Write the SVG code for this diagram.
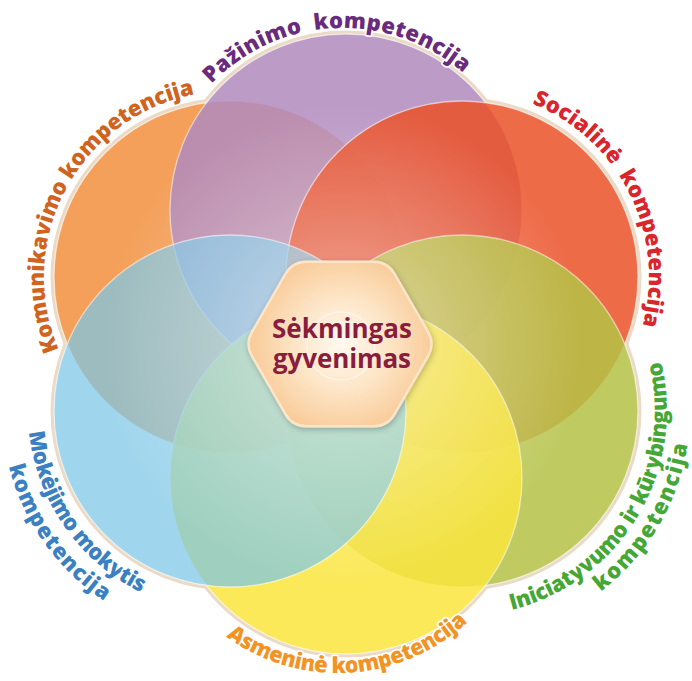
<svg xmlns="http://www.w3.org/2000/svg" width="692" height="681" viewBox="0 0 692 681">
<defs>
<style>
.rim{fill:none;stroke:#EADAC6;stroke-width:5}
.base{fill:#fff}
.c{stroke:#fff;stroke-opacity:0.55;stroke-width:1.3}
.lbl{font-family:"Open Sans","Liberation Sans",sans-serif;font-weight:800;font-size:22px;stroke:#fff;stroke-width:3.5px;paint-order:stroke;stroke-linejoin:round;white-space:pre}
.ctr{font-family:"Open Sans","Liberation Sans",sans-serif;font-weight:700;font-size:26px;fill:#8A1C3D;text-anchor:middle}
</style>
<path id="p-paz" d="M211.4,83.9 A183,183 0 0 1 463.1,72.9"/>
<path id="p-soc" d="M532.1,103.6 A187,187 0 0 1 642.6,325.4"/>
<path id="p-kom" d="M58.8,349.7 A186,186 0 0 1 194.5,94.4"/>
<path id="p-asm" d="M226.3,636.7 A190,190 0 0 0 467.6,621.9"/>
<path id="p-ini1" d="M511.6,609.9 A205,205 0 0 0 660.9,361.4"/>
<path id="p-ini2" d="M600.8,591.7 A228,228 0 0 0 686.5,450.6"/>
<path id="p-mok1" d="M29.1,432.1 A202,202 0 0 0 141.4,592.6"/>
<path id="p-mok2" d="M8.8,466.2 A228,228 0 0 0 104.2,601.1"/>
<radialGradient id="glow" cx="343" cy="344" r="240" gradientUnits="userSpaceOnUse">
<stop offset="0" stop-color="#fff" stop-opacity="0.5"/>
<stop offset="0.55" stop-color="#fff" stop-opacity="0.22"/>
<stop offset="1" stop-color="#fff" stop-opacity="0"/>
</radialGradient>
<radialGradient id="hexg" cx="342" cy="344" r="100" gradientUnits="userSpaceOnUse">
<stop offset="0" stop-color="#FFF9F1"/>
<stop offset="0.45" stop-color="#FDE6C8"/>
<stop offset="1" stop-color="#F8C690"/>
</radialGradient>
<filter id="sh" x="-20%" y="-20%" width="140%" height="140%">
<feGaussianBlur in="SourceAlpha" stdDeviation="3"/>
<feOffset dx="1" dy="2"/>
<feComponentTransfer><feFuncA type="linear" slope="0.25"/></feComponentTransfer>
<feMerge><feMergeNode/><feMergeNode in="SourceGraphic"/></feMerge>
</filter>
</defs>
<rect width="692" height="681" fill="#fff"/>
<g id="rims">
<circle class="rim" cx="230" cy="277" r="177"/>
<circle class="rim" cx="346" cy="210" r="177"/>
<circle class="rim" cx="462" cy="277" r="177"/>
<circle class="rim" cx="462" cy="411" r="177"/>
<circle class="rim" cx="346" cy="478" r="177"/>
<circle class="rim" cx="230" cy="411" r="177"/>
<circle class="base" cx="230" cy="277" r="176"/>
<circle class="base" cx="346" cy="210" r="176"/>
<circle class="base" cx="462" cy="277" r="176"/>
<circle class="base" cx="462" cy="411" r="176"/>
<circle class="base" cx="346" cy="478" r="176"/>
<circle class="base" cx="230" cy="411" r="176"/>
</g>
<g id="komunikavimo">
<circle class="c" cx="230" cy="277" r="176" fill="#F39343" fill-opacity="0.88"/>
<text class="lbl" fill="#D0641F"><textPath href="#p-kom" textLength="331">Komunikavimo kompetencija</textPath></text>
</g>
<g id="pazinimo">
<circle class="c" cx="346" cy="210" r="176" fill="#B089BD" fill-opacity="0.85"/>
<text class="lbl" fill="#6A2A7E"><textPath href="#p-paz" textLength="278">Pažinimo  kompetencija</textPath></text>
</g>
<g id="socialine">
<circle class="c" cx="462" cy="277" r="176" fill="#EB5128" fill-opacity="0.85"/>
<text class="lbl" fill="#D9252B"><textPath href="#p-soc" textLength="271">Socialinė  kompetencija</textPath></text>
</g>
<g id="iniciatyvumo">
<circle class="c" cx="462" cy="411" r="176" fill="#B4C245" fill-opacity="0.85"/>
<text class="lbl" fill="#45A736"><textPath href="#p-ini1" textLength="322">Iniciatyvumo ir kūrybingumo</textPath></text>
<text class="lbl" fill="#45A736"><textPath href="#p-ini2" textLength="175">kompetencija</textPath></text>
</g>
<g id="asmenine">
<circle class="c" cx="346" cy="478" r="176" fill="#FAE53D" fill-opacity="0.85"/>
<text class="lbl" fill="#F39323"><textPath href="#p-asm" textLength="262">Asmeninė kompetencija</textPath></text>
</g>
<g id="mokejimo">
<circle class="c" cx="230" cy="411" r="176" fill="#7CC6E6" fill-opacity="0.72"/>
<text class="lbl" fill="#3A80C3"><textPath href="#p-mok1" textLength="204">Mokėjimo mokytis</textPath></text>
<text class="lbl" fill="#3A80C3"><textPath href="#p-mok2" textLength="169">kompetencija</textPath></text>
</g>
<circle cx="343" cy="344" r="240" fill="url(#glow)"/>
<g id="connectors"/>
<g id="sekmingas-gyvenimas">
<path filter="url(#sh)" d="M306.5,261.7 L373.5,261.7 Q387.5,261.7 394.5,273.8 L428,331.9 Q435,344 428,356.1 L394.5,414.2 Q387.5,426.3 373.5,426.3 L306.5,426.3 Q292.5,426.3 285.5,414.2 L252,356.1 Q245,344 252,331.9 L285.5,273.8 Q292.5,261.7 306.5,261.7 Z" fill="url(#hexg)" stroke="#FCE5C8" stroke-width="2.5"/>
<circle cx="341" cy="346" r="34" fill="none" stroke="#fff" stroke-opacity="0.5" stroke-width="1.5"/>
<text class="ctr" x="342" y="338" textLength="140">Sėkmingas</text>
<text class="ctr" x="342" y="368" textLength="138">gyvenimas</text>
</g>
</svg>
